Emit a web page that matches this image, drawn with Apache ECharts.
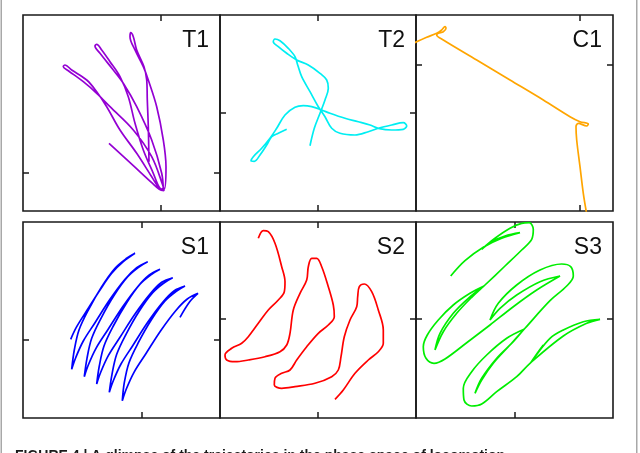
<!DOCTYPE html>
<html><head><meta charset="utf-8">
<script src="https://cdn.jsdelivr.net/npm/echarts@6/dist/echarts.min.js"></script>
<style>html,body{margin:0;padding:0;background:#fff;}#c{width:640px;height:453px;}</style>
</head><body><div id="c"></div>
<script>
// Panel names
const labels = ['T1', 'T2', 'C1', 'S1', 'S2', 'S3'];
// Single tick position per panel (x and y, in panel data units)
const tickX = [138, 98, 164, 119, 98, 99];
const tickY = [38, 98, 146, 78, 99, 99];
// Trajectories
const T1 = [[86,67.7],[110.3,45.3],[128.7,28.3],[136.3,21.7],[141,20.3],[139.7,26],[128.7,54.3],[110.3,81],[87,104.3],[73.7,117.7],[60.3,129.3],[45.3,140.3],[40.3,144.3],[42,146],[48.7,141],[63.7,131],[73.7,119.3],[83.7,104.3],[97,81],[113.7,57.7],[128.7,34.3],[136.3,22.7],[140.3,21],[138.7,37.7],[128.7,71],[113.7,104.3],[100.3,127.7],[90.3,141],[77,157.7],[72,165],[73.7,166.7],[78.7,161],[87,149.3],[97,134.3],[105.3,114.3],[112,87.7],[120.3,61],[130.3,37.7],[137,22.7],[141,21.7],[143,44.3],[140.3,71],[133.7,104.3],[125.3,131],[120.3,144.3],[112,161],[107,174.3],[107.7,178.3],[110.3,174.3],[113.7,161],[121,144.3],[123.7,131],[124.3,111],[125.3,84.3],[126,49.3]];
const T2 = [[90,65.3],[94.3,82.7],[100,97.7],[105,111],[108.3,122.7],[106.7,131],[100,137.7],[88.3,146],[76.7,151],[66.7,157.7],[58.3,164.3],[53.3,169.3],[55,172],[60,170.3],[68.3,162.7],[75,154.3],[77.7,146],[81.7,134.3],[90,119.3],[98.3,104.3],[105,94.3],[111.7,82.7],[120,77.7],[135,76],[148.3,79.3],[158.3,82.7],[171.7,86],[183.3,88.3],[186.7,85],[183.3,81.7],[171.7,81],[158.3,82.7],[150,86],[138.3,89.3],[125,92.7],[110,97.7],[101.7,101],[91.7,104.3],[83.3,105.3],[75,103.7],[65,96],[56.7,82.7],[50,72.7],[41.7,62.7],[33.3,54.3],[31,50.3],[34.3,49.7],[40,56],[46.7,66],[51.7,74.3],[58.3,77.7],[66.7,81.7]];
const C1 = [[-2,168],[10.7,173.7],[20.7,177.7],[25.7,181],[29,184.3],[30,182.7],[27.3,179.3],[22.3,177.7],[20.7,176],[27.3,171],[60.7,151],[94,131],[127.3,111],[154,94.3],[164,89.3],[172.3,87],[170.7,85],[162.3,87.7],[160,84.3],[160.7,71],[164,44.3],[167.3,17.7],[170.7,-3]];
const S1 = [[47.7,78.7],[53.7,91.3],[65.3,109.7],[77,128],[88.7,144.7],[100.3,156.3],[112,164.7],
[103.7,159.7],[92,149.7],[78.7,131.3],[65.3,108],[56,88],[51.3,68],[48.7,48.7],
[52.7,60.3],[60.3,77],[72,95.3],[87,118.7],[102,138.7],[113.7,150.3],[124.7,156.3],
[116.3,151.3],[104.7,141.3],[91.3,123],[78,99.7],[68.7,79.7],[64,59.7],[61.3,41.3],
[65.3,53],[73,69.7],[84.7,88],[99.7,111.3],[114.7,131.3],[126.3,143],[137,148.7],
[128.7,143.7],[117,133.7],[103.7,115.3],[90.3,92],[81,72],[76.3,52],[73.7,34],
[77.7,45.7],[85.3,62.3],[97,80.7],[112,104],[127,124],[138.7,135.7],[149.7,140.3],
[141.3,135.3],[129.7,125.3],[116.3,107],[103,83.7],[93.7,63.7],[89,43.7],[86.3,25.7],
[90.3,37.3],[98,54],[109.7,72.3],[124.7,95.7],[139.7,115.7],[151.3,127.3],[162,132],
[153.7,127],[142,117],[128.7,98.7],[115.3,75.3],[106,55.3],[101.3,35.3],[99.3,17.3],
[103.3,29],[111,45.7],[122.7,64],[137.7,87.3],[152.7,107.3],[164.3,119],[175,124.7],
[166.7,116.3],[157,100.7]];
const S2 = [[38.3,179.7],[43.3,187.3],[48.3,186.3],[55,174.7],[61.7,151.3],[65,136.3],[64.3,126.3],[58.3,118],[48.3,108],[38.3,94.7],[28.3,81.3],[21.7,74.7],[11.7,69.7],[5,63],[6.7,58],[15,56.3],[28.3,58],[45,61.3],[60,66.3],[66.7,73],[70,84.7],[73.3,108],[80,124.7],[86.7,138],[88.3,151.3],[91.7,159.7],[96.7,159.7],[101.7,151.3],[108.3,131.3],[113.3,113],[114.3,101.3],[108.3,93],[98.3,84.7],[86.7,71.3],[76.7,58],[70,48],[61.7,44.7],[55,39.7],[54.3,33],[61.7,29.7],[75,31.3],[95,34.7],[111.7,41.3],[118.3,48],[121,61.3],[124.3,81.3],[130,98],[136.7,111.3],[137.7,121.3],[139.3,131.3],[144.3,134],[151.7,126.3],[158.3,108],[163.3,88],[163.3,74.7],[158.3,66.3],[148.3,58],[135,44.7],[123.3,28],[115,18.7]];
const S3 = [[34.7,142],[49,157.3],[67.3,170.7],[85.7,179.7],[104,185.3],[89,182],[75.7,176.3],[65.7,168.7],[79,179.7],[94,189.7],[105.7,194.7],[113.3,195.3],[117.3,188.7],[115.7,178.7],[105.7,168],[89,152],[69,133],[55.7,120.7],[40.7,104.7],[27.3,86.3],[19,68],[24,84.7],[37.3,104.7],[52.3,119.7],[68,132],[54,124.7],[37.3,113],[22.3,98],[11.3,83],[7.3,71.3],[10,59.7],[18,54.7],[29,59],[50.7,75.3],[74,93],[97.3,111.3],[120.7,128],[144,142],[124,136.3],[100.7,123],[84,109.7],[74,98],[82.3,114.7],[100.7,133],[124,148],[145.7,154],[154.7,151.3],[157.3,142],[150.7,132],[134,117.3],[109,89.7],[94,73],[77.3,54.7],[65.7,38],[59,24.7],[65.7,39.7],[80.7,59.7],[97.3,76.3],[108,88.7],[90.7,79.7],[70.7,63],[55.7,46.3],[47.3,29.7],[48,18],[55.7,12],[65.7,14],[80.7,26.3],[100.7,41.3],[114,54.7],[147.3,82],[170.7,94.7],[184,98.7],[167.3,96.3],[147.3,88],[134,79.7],[119,61.3],[114.7,55.3],[122.3,66.3],[127.3,73]];
const seriesData = [T1, T2, C1, S1, S2, S3];
const colors = ['#9400d3', '#00eef2', '#ffa500', '#0000ff', '#ff0000', '#00ee00'];

// layout
const colLeft = [23, 220, 416], colW = [197, 196, 197];
const rowTop = [15, 222], rowH = 196;

const grid = [], xAxis = [], yAxis = [], series = [], graphic = [];
const tickStyle = {show: true, inside: true, length: 6, lineStyle: {color: '#1a1a1a', width: 1.5}};
for (let i = 0; i < 6; i++) {
  const r = Math.floor(i / 3), c = i % 3;
  grid.push({left: colLeft[c], top: rowTop[r], width: colW[c], height: rowH,
    show: true, borderColor: '#1a1a1a', borderWidth: 1.6, backgroundColor: 'transparent'});
  for (const pos of ['bottom', 'top']) {
    xAxis.push({type: 'value', gridIndex: i, position: pos, min: 0, max: colW[c],
      axisLine: {show: false, onZero: false}, axisLabel: {show: false}, splitLine: {show: false},
      axisTick: Object.assign({customValues: [tickX[i]]}, tickStyle)});
  }
  for (const pos of ['left', 'right']) {
    yAxis.push({type: 'value', gridIndex: i, position: pos, min: 0, max: rowH,
      axisLine: {show: false, onZero: false}, axisLabel: {show: false}, splitLine: {show: false},
      axisTick: Object.assign({customValues: [tickY[i]]}, tickStyle)});
  }
  series.push({type: 'line', xAxisIndex: 2 * i, yAxisIndex: 2 * i, data: seriesData[i],
    showSymbol: false, smooth: 0.35, clip: true, silent: true,
    lineStyle: {color: colors[i], width: 1.7}});
  graphic.push({type: 'text', right: 640 - (colLeft[c] + colW[c]) + 11, top: rowTop[r] + 14,
    style: {text: labels[i], font: '23px "Liberation Sans", Arial, sans-serif', fill: '#111'}});
}
graphic.push({type: 'rect', shape: {x: 0.5, y: 0, width: 1.5, height: 453}, style: {fill: '#a8a8a8'}});
graphic.push({type: 'rect', shape: {x: 636, y: 0, width: 1.5, height: 453}, style: {fill: '#a8a8a8'}});
graphic.push({type: 'text', left: 15, top: 449,
  style: {text: 'FIGURE 4 | A glimpse of the trajectories in the phase space of locomotion',
    font: 'bold 14px "Liberation Sans", Arial, sans-serif', fill: '#1a1a1a'}});

const chart = echarts.init(document.getElementById('c'), null, {renderer: 'canvas'});
chart.setOption({animation: false, backgroundColor: '#fff', grid, xAxis, yAxis, series, graphic});
</script></body></html>
